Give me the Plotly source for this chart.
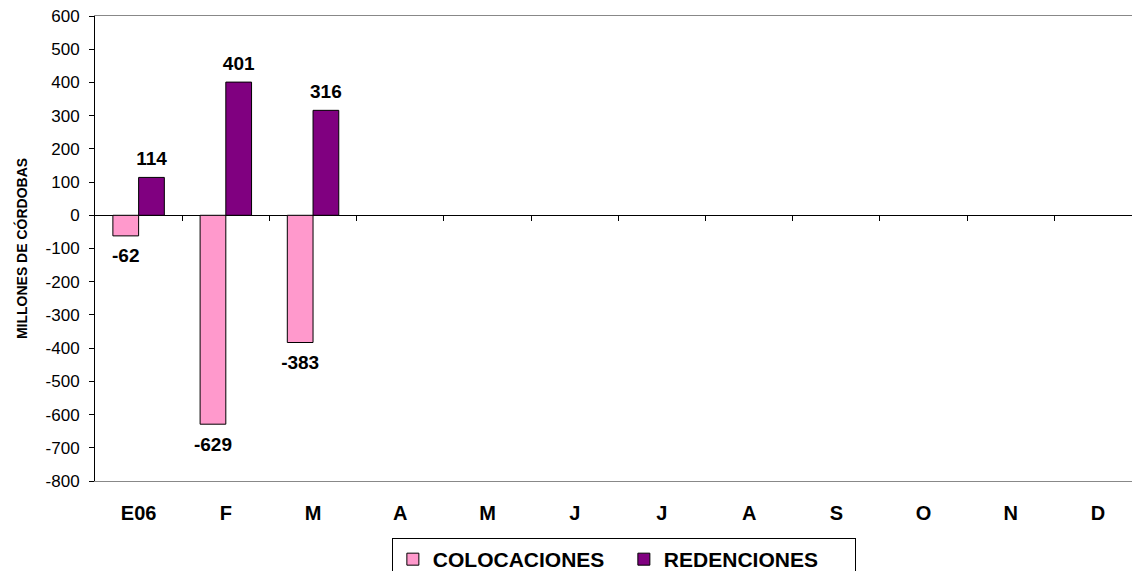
import plotly.graph_objects as go

months = ["E06", "F", "M", "A", "M", "J", "J", "A", "S", "O", "N", "D"]
colocaciones = [-62, -629, -383, None, None, None, None, None, None, None, None, None]
redenciones = [114, 401, 316, None, None, None, None, None, None, None, None, None]
y_ticks = list(range(-800, 700, 100))
y_min, y_max = -800, 600

FONT = "Arial, 'Liberation Sans', sans-serif"
x_idx = list(range(len(months)))
BARGAP = 0.41
series = [("COLOCACIONES", colocaciones, "#FF99CC"), ("REDENCIONES", redenciones, "#800080")]
bar_w = (1 - BARGAP) / len(series)

fig = go.Figure()
for k, (name, vals, color) in enumerate(series):
    fig.add_trace(go.Bar(
        x=x_idx, y=vals, name=f"<b>{name}</b>",
        marker=dict(color=color, line=dict(color="black", width=1)),
        hoverinfo="skip",
    ))
for k, (name, vals, color) in enumerate(series):
    offset = (k - (len(series) - 1) / 2) * bar_w
    pts = [(i + offset, v) for i, v in zip(x_idx, vals) if v is not None]
    fig.add_trace(go.Scatter(
        x=[p[0] for p in pts], y=[p[1] for p in pts],
        mode="markers+text", xaxis="x2",
        marker=dict(size=[10 if p[1] >= 0 else 18 for p in pts], opacity=0),
        text=[f"<b>{p[1]}</b>" for p in pts],
        textposition=["top center" if p[1] >= 0 else "bottom center" for p in pts],
        textfont=dict(family=FONT, size=19, color="black"),
        showlegend=False, cliponaxis=False, hoverinfo="skip",
    ))

zero_pos = (0 - y_min) / (y_max - y_min)
x_range = [-0.5, 11.39]

fig.update_layout(
    width=1132, height=571,
    margin=dict(l=95, r=0, t=16, b=90, autoexpand=False),
    paper_bgcolor="white", plot_bgcolor="white",
    barmode="group", bargap=BARGAP, bargroupgap=0,
    font=dict(family=FONT, color="black"),
    showlegend=True,
    legend=dict(
        orientation="h", x=0.51, xanchor="center", y=-0.1226, yanchor="top",
        bordercolor="black", borderwidth=1,
        font=dict(family=FONT, size=21, color="black"),
        itemwidth=30, tracegroupgap=0, entrywidth=186,
    ),
    xaxis=dict(
        range=x_range, tickmode="array", tickvals=x_idx,
        ticktext=[f"<b>{m}</b>" for m in months],
        tickfont=dict(family=FONT, size=20, color="black"),
        ticklabelstandoff=14,
        showline=True, linecolor="#888888", linewidth=1, mirror=True,
        ticks="", showgrid=False, zeroline=False,
    ),
    xaxis2=dict(
        overlaying="x", anchor="free", position=zero_pos, side="bottom",
        range=x_range, tickmode="array",
        tickvals=[i + 0.5 for i in range(len(months) - 1)],
        ticks="outside", ticklen=5, tickcolor="black", tickwidth=1,
        showticklabels=False, showline=False, showgrid=False, zeroline=False,
    ),
    yaxis=dict(
        range=[y_min, y_max], tickmode="array", tickvals=y_ticks,
        ticktext=[str(v) for v in y_ticks],
        tickfont=dict(family=FONT, size=17, color="black"),
        ticklabelstandoff=6,
        ticks="outside", ticklen=5, tickcolor="black",
        showline=True, linecolor="black", linewidth=1,
        showgrid=False, zeroline=True, zerolinecolor="black", zerolinewidth=1,
        title=dict(text="<b>MILLONES DE CÓRDOBAS</b>",
                   font=dict(family=FONT, size=14, color="black"), standoff=14),
    ),
)

fig.write_html("out.html")
